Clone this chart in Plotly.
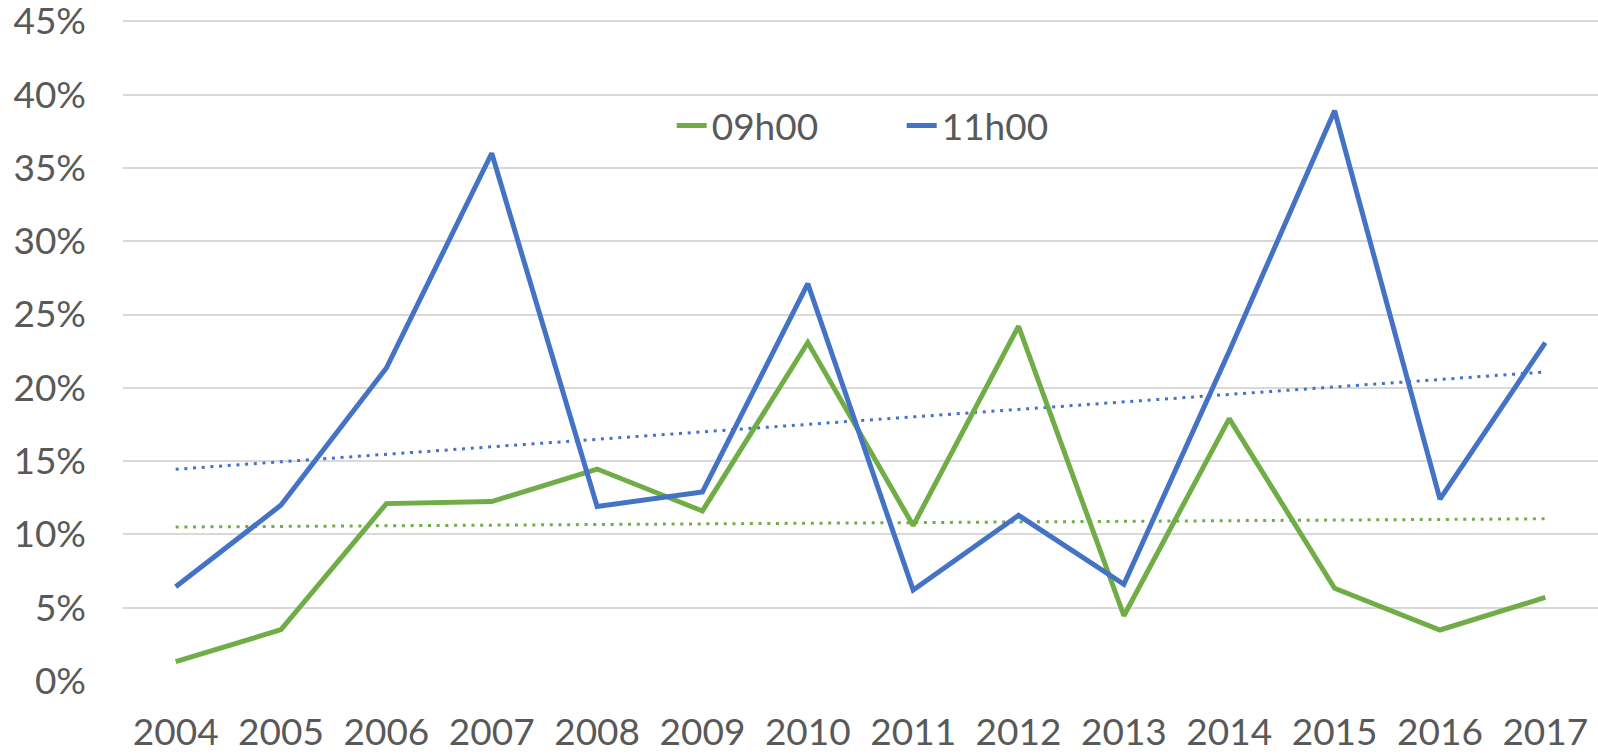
import numpy as np
import plotly.graph_objects as go

# Yearly shares for the two observation times
years = ["2004", "2005", "2006", "2007", "2008", "2009", "2010",
         "2011", "2012", "2013", "2014", "2015", "2016", "2017"]
share_09h = [1.32, 3.5, 12.1, 12.24, 14.46, 11.6, 23.09,
             10.6, 24.2, 4.45, 17.9, 6.33, 3.48, 5.7]
share_11h = [6.43, 12.0, 21.35, 36.0, 11.9, 12.9, 27.1,
             6.2, 11.3, 6.6, 22.5, 38.9, 12.4, 23.09]

GREEN = "#70AD47"
BLUE = "#4472C4"
TEXT = "#595959"
FONT = "Lato, 'Open Sans', sans-serif"


def linear_trend(values):
    idx = np.arange(len(values))
    slope, intercept = np.polyfit(idx, values, 1)
    return slope * idx + intercept


y09 = np.array(share_09h) / 100
y11 = np.array(share_11h) / 100

fig = go.Figure()

# Linear trendlines (least squares), drawn behind the series
fig.add_trace(go.Scatter(x=years, y=linear_trend(y09), mode="lines",
                         line=dict(color=GREEN, width=3, dash="3px,5.7px"),
                         showlegend=False, hoverinfo="skip"))
fig.add_trace(go.Scatter(x=years, y=linear_trend(y11), mode="lines",
                         line=dict(color=BLUE, width=3, dash="3px,5.7px"),
                         showlegend=False, hoverinfo="skip"))

fig.add_trace(go.Scatter(x=years, y=y09, name="09h00", mode="lines",
                         line=dict(color=GREEN, width=5)))
fig.add_trace(go.Scatter(x=years, y=y11, name="11h00", mode="lines",
                         line=dict(color=BLUE, width=5)))

fig.update_layout(
    width=1598, height=754,
    margin=dict(l=123, r=0, t=14, b=73),
    paper_bgcolor="white", plot_bgcolor="white",
    font=dict(family=FONT, size=37, color=TEXT),
    legend=dict(orientation="h", x=0.372, y=0.832,
                xanchor="left", yanchor="middle",
                bgcolor="rgba(0,0,0,0)", font=dict(size=37, color=TEXT),
                itemwidth=30, entrywidth=185, traceorder="normal"),
    xaxis=dict(type="category", showgrid=False, showline=False,
               ticks="", range=[-0.5, len(years) - 0.5], automargin=False,
               tickfont=dict(size=37, color=TEXT), ticklabelstandoff=26,
               ticklabeloverflow="allow"),
    yaxis=dict(range=[0, 0.455], tickvals=[round(i * 0.05, 2) for i in range(10)],
               tickformat=".0%", automargin=False, ticklabeloverflow="allow",
               showgrid=True, gridcolor="#D9D9D9", gridwidth=1.5,
               zeroline=False, showline=False, ticks="",
               tickfont=dict(size=37, color=TEXT), ticklabelstandoff=36),
)

fig.write_html("out.html")
